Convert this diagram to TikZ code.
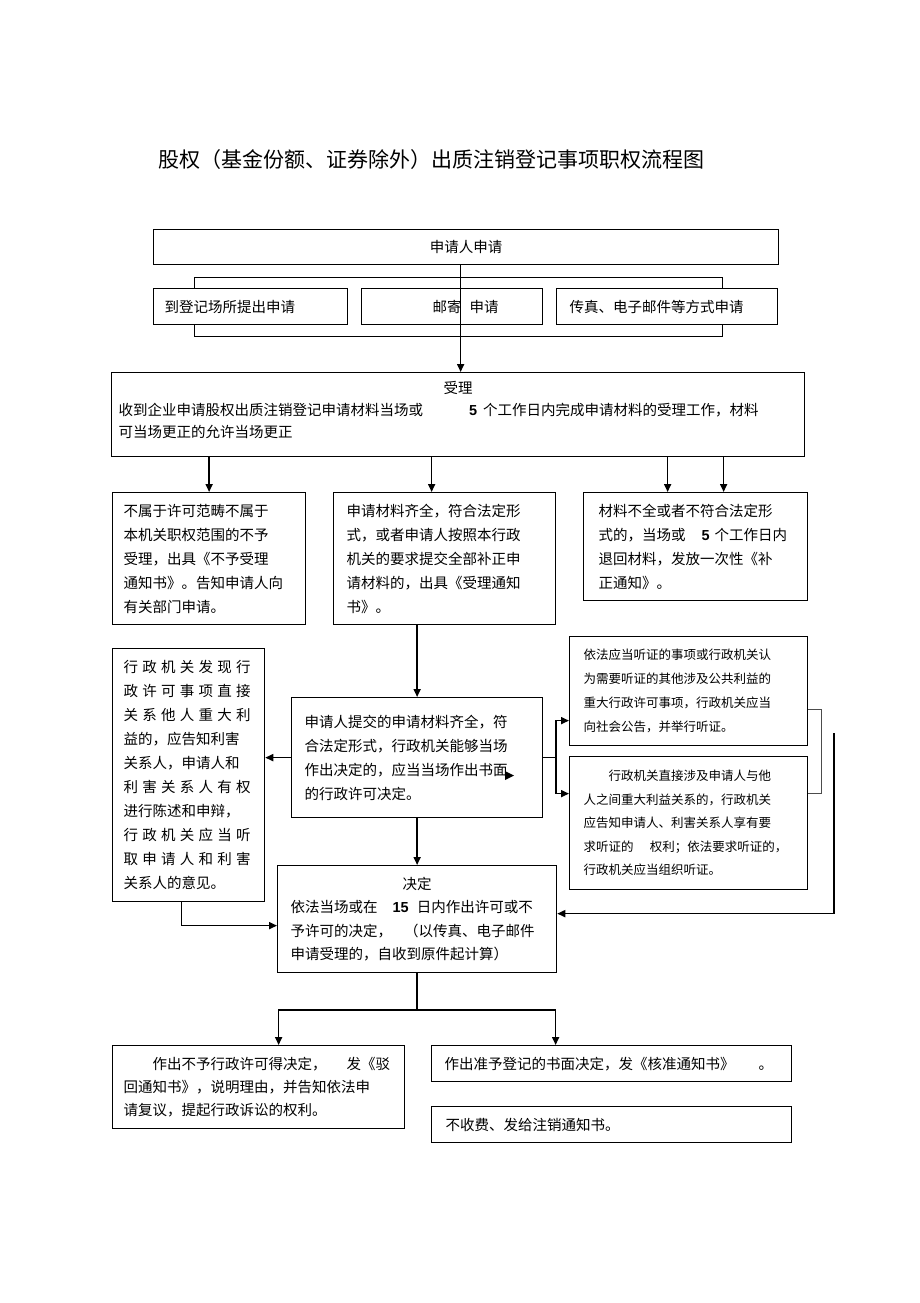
\documentclass[tikz,border=0pt]{standalone}
\usepackage{fontspec}
\setmainfont{Noto Sans CJK SC}
\newfontfamily\numfont{Liberation Sans}
\usetikzlibrary{arrows.meta}

\newcommand\dig[1]{{\numfont\bfseries #1}}
% spread one line of characters over a fixed width
\def\spreadit#1{\leavevmode\hbox to 127pt{\spreadnext#1\relax}}
\def\spreadnext#1{\ifx#1\relax\else#1\expandafter\spreadmore\fi}
\def\spreadmore#1{\ifx#1\relax\else\hfill#1\expandafter\spreadmore\fi}
\newcommand\midline[2]{\leavevmode\hbox to #1{\hfil #2\hfil}}

\begin{document}
\begin{tikzpicture}[x=1pt, y=-1pt,
    box/.style={draw, line width=1.25pt, fill=white, anchor=north west, inner ysep=0pt,
      align=left, font=\fontsize{14.5}{24}\selectfont},
    small/.style={font=\fontsize{12.5}{23.5}\selectfont},
    arr/.style={line width=1.6pt, -{Triangle[length=8pt,width=7pt]}},
    link/.style={line width=1.6pt}]
\useasboundingbox (0,0) rectangle (920,1303);

\node[font=\fontsize{21}{24}\selectfont] (title) at (431,160)
  {股权（基金份额、证券除外）出质注销登记事项职权流程图};

% application
\node[box, align=center, minimum width=625, minimum height=35] (apply) at (153,229) {申请人申请};
\node[draw, line width=1.4pt, anchor=north west, inner sep=0pt,
  minimum width=528, minimum height=59] (grp) at (194,277) {};
\node[box, minimum width=194, minimum height=36, inner xsep=11pt, text width=172pt] (via1) at (153,288)
  {到登记场所提出申请};
\node[box, align=center, minimum width=181, minimum height=36] (via2) at (361,288)
  {\hspace{27pt}邮寄\hspace{8pt}申请};
\node[box, minimum width=221, minimum height=36, inner xsep=13pt, text width=195pt] (via3) at (556,288)
  {传真、电子邮件等方式申请};

% acceptance
\node[box, minimum width=693, minimum height=84, inner xsep=7pt, text width=679pt,
  font=\fontsize{14.5}{22}\selectfont] (accept) at (111,372)
  {\midline{679pt}{受理}\\
   收到企业申请股权出质注销登记申请材料当场或\hspace{46pt}\dig{5}\hspace{6pt}个工作日内完成申请材料的受理工作，材料\\
   可当场更正的允许当场更正\rule[-10pt]{0pt}{10pt}};

\node[box, minimum width=193, minimum height=132, inner xsep=11pt, text width=171pt] (nosc) at (112,492)
  {不属于许可范畴不属于\\
   本机关职权范围的不予\\
   受理，出具《不予受理\\
   通知书》。告知申请人向\\
   有关部门申请。};
\node[box, minimum width=222, minimum height=132, inner xsep=13pt, text width=196pt] (okacc) at (333,492)
  {申请材料齐全，符合法定形\\
   式，或者申请人按照本行政\\
   机关的要求提交全部补正申\\
   请材料的，出具《受理通知\\
   书》。};
\node[box, minimum width=224, minimum height=108, inner xsep=15pt, text width=194pt] (incomp) at (583,492)
  {材料不全或者不符合法定形\\
   式的，当场或\hspace{16pt}\dig{5}\hspace{5pt}个工作日内\\
   退回材料，发放一次性《补\\
   正通知》。};

% examination
\node[box, minimum width=251, minimum height=120, inner xsep=13pt, text width=225pt] (onsite) at (291,697)
  {申请人提交的申请材料齐全，符\\
   合法定形式，行政机关能够当场\\
   作出决定的，应当当场作出书面\\
   的行政许可决定。};
\node[box, minimum width=152, minimum height=253, inner xsep=11pt, text width=130pt] (third) at (112,648)
  {\spreadit{行政机关发现行}\\
   \spreadit{政许可事项直接}\\
   \spreadit{关系他人重大利}\\
   益的，应告知利害\\
   关系人，申请人和\\
   \spreadit{利害关系人有权}\\
   进行陈述和申辩，\\
   \spreadit{行政机关应当听}\\
   \spreadit{取申请人和利害}\\
   关系人的意见。};
\node[box, small, font=\fontsize{12.5}{24}\selectfont, minimum width=238, minimum height=109,
  inner xsep=14pt, text width=210pt] (hear1) at (569,636)
  {依法应当听证的事项或行政机关认\\
   为需要听证的其他涉及公共利益的\\
   重大行政许可事项，行政机关应当\\
   向社会公告，并举行听证。};
\node[box, small, minimum width=238, minimum height=133, inner xsep=14pt, text width=210pt] (hear2) at (569,756)
  {\hspace*{2em}行政机关直接涉及申请人与他\\
   人之间重大利益关系的，行政机关\\
   应告知申请人、利害关系人享有要\\
   求听证的\hspace{1.3em}权利；依法要求听证的，\\
   行政机关应当组织听证。};

% decision
\node[box, font=\fontsize{14.5}{23.5}\selectfont, minimum width=279, minimum height=107,
  inner xsep=13pt, text width=253pt] (decide) at (277,865)
  {\midline{253pt}{决定}\\
   依法当场或在\hspace{15pt}\dig{15}\hspace{8pt}日内作出许可或不\\
   予许可的决定，\hspace{12pt}（以传真、电子邮件\\
   申请受理的，自收到原件起计算）};
\node[box, font=\fontsize{14.5}{23}\selectfont, minimum width=292, minimum height=83,
  inner xsep=11pt, text width=270pt] (refuse) at (112,1045)
  {\hspace*{2em}作出不予行政许可得决定，\hspace{20pt}发《驳\\
   回通知书》，说明理由，并告知依法申\\
   请复议，提起行政诉讼的权利。};
\node[box, minimum width=360, minimum height=36, inner xsep=13pt, text width=334pt] (approve) at (431,1045)
  {作出准予登记的书面决定，发《核准通知书》\hspace{24pt}。};
\node[box, minimum width=360, minimum height=36, inner xsep=14pt, text width=332pt] (nofee) at (431,1106)
  {不收费、发给注销通知书。};

% connectors
\draw[arr] ([xshift=-5.5]apply.south) -- ([xshift=-5.5]apply.south |- accept.north);
\draw[arr] (accept.south -| nosc.north) -- (nosc.north);
\draw[arr] ([xshift=-13]okacc.north |- accept.south) -- ([xshift=-13]okacc.north);
\draw[arr] ([xshift=-28]incomp.north |- accept.south) -- ([xshift=-28]incomp.north);
\draw[arr] ([xshift=28]incomp.north |- accept.south) -- ([xshift=28]incomp.north);
\draw[arr] (okacc.south -| onsite.north) -- (onsite.north);
\draw[arr] (onsite.west) -- (onsite.west -| third.east);
\draw[arr] ([xshift=-7]third.south) |- ([yshift=-6.5]decide.west);
\draw[arr] (onsite.south) -- (decide.north);
\draw[arr] (onsite.east) -- ++(13,0) |- ([yshift=-29.5]hear1.west);
\draw[arr] (onsite.east) -- ++(13,0) |- ([yshift=29.5]hear2.west);
\draw[line width=0.8pt, black!70] ([yshift=-18.5]hear1.east) -- ++(13,0) |- ([yshift=29.5]hear2.east);
\coordinate (back) at (834,733);
\draw[arr] (back) |- ([yshift=5.5]decide.east);
\draw[link] (decide.south) -- ++(0,37) coordinate (split);
\draw[arr] (split) -| ([xshift=20]refuse.north);
\draw[arr] (split) -| ([xshift=-56]approve.north);
\fill (505,771) -- (514,775.5) -- (505,780) -- cycle;
\end{tikzpicture}
\end{document}
